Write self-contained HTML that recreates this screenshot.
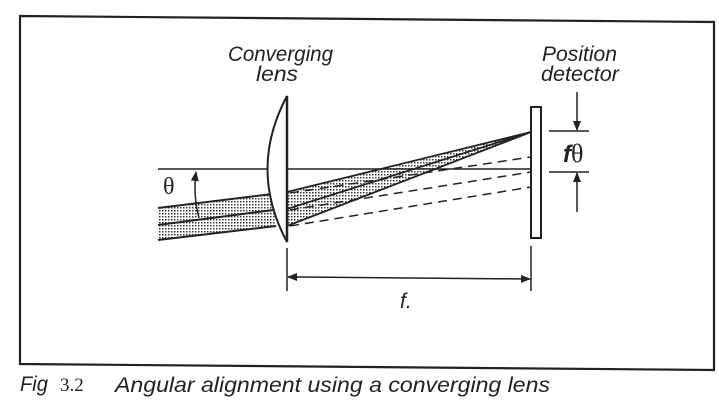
<!DOCTYPE html>
<html><head><style>body{margin:0;background:#fff}svg{display:block}</style></head><body>
<svg width="719" height="403" viewBox="0 0 719 403" xmlns="http://www.w3.org/2000/svg">
<defs>
<pattern id="dots" width="3" height="3" patternUnits="userSpaceOnUse"><rect width="3" height="3" fill="#fff"/><rect x="0" y="0" width="1.5" height="1.5" fill="#333"/></pattern>
<marker id="ah" markerWidth="10" markerHeight="8" refX="9" refY="4" orient="auto" markerUnits="userSpaceOnUse"><path d="M0,0 L10,4 L0,8 z" fill="#222"/></marker>
</defs>
<polygon points="20,16 714,22 714,370 20,364" fill="none" stroke="#222" stroke-width="2.2"/>
<g font-family="Liberation Sans, sans-serif" font-style="italic" font-size="21" fill="#222">
<text x="228" y="61" textLength="105" lengthAdjust="spacingAndGlyphs">Converging</text>
<text x="256" y="81" textLength="42" lengthAdjust="spacingAndGlyphs">lens</text>
<text x="542" y="61" textLength="75" lengthAdjust="spacingAndGlyphs">Position</text>
<text x="541" y="81" textLength="78" lengthAdjust="spacingAndGlyphs">detector</text>
</g>
<polygon points="158,208 272,194 276,226 158,240" fill="url(#dots)"/>
<g stroke="#222" stroke-width="2" fill="none">
<line x1="158" y1="208" x2="272" y2="194"/><line x1="158" y1="225" x2="273" y2="210"/><line x1="158" y1="240" x2="276" y2="226"/>
</g>
<polygon points="287,192 531,132 287,226" fill="url(#dots)"/>
<g stroke="#222" stroke-width="1.8" fill="none">
<line x1="287" y1="192" x2="531" y2="132"/><line x1="287" y1="209" x2="531" y2="132"/><line x1="287" y1="226" x2="531" y2="132"/>
<line x1="158" y1="169" x2="531" y2="169" stroke-width="1.5"/>
</g>
<g stroke="#222" stroke-width="1.5" stroke-dasharray="9,6" fill="none">
<line x1="290" y1="193" x2="531" y2="157"/><line x1="290" y1="210" x2="531" y2="172"/><line x1="290" y1="226" x2="531" y2="187"/>
</g>
<path d="M287,96 Q248,169 287,242 Z" fill="#fff" stroke="#222" stroke-width="2"/>
<line x1="287" y1="96" x2="287" y2="242" stroke="#222" stroke-width="2.5"/>
<rect x="531" y="107" width="10" height="131" fill="#fff" stroke="#222" stroke-width="2"/>
<text x="163" y="194" font-family="Liberation Serif, serif" font-size="24" fill="#222">θ</text>
<path d="M199,218 Q193,195 196,172" fill="none" stroke="#222" stroke-width="1.5" marker-end="url(#ah)"/>
<g stroke="#222" stroke-width="1.5">
<line x1="549" y1="131" x2="589" y2="131"/><line x1="549" y1="172" x2="589" y2="172"/>
<line x1="577" y1="92" x2="577" y2="130" marker-end="url(#ah)"/>
<line x1="577" y1="212" x2="577" y2="173" marker-end="url(#ah)"/>
</g>
<text x="563" y="162" font-family="Liberation Sans, sans-serif" font-style="italic" font-weight="bold" font-size="24" fill="#222">f</text>
<text x="571" y="162" font-family="Liberation Serif, serif" font-size="26" fill="#222">θ</text>
<g stroke="#222" stroke-width="1.5">
<line x1="287" y1="248" x2="287" y2="291"/><line x1="531" y1="246" x2="531" y2="291"/>
<line x1="300" y1="277" x2="530" y2="279" marker-end="url(#ah)"/>
<line x1="300" y1="277" x2="288" y2="277" marker-end="url(#ah)"/>
</g>
<text x="400" y="308" font-family="Liberation Sans, sans-serif" font-style="italic" font-size="21" fill="#222">f.</text>
<g font-size="21" fill="#222">
<text x="20" y="391" font-family="Liberation Sans, sans-serif" font-style="italic" textLength="28" lengthAdjust="spacingAndGlyphs">Fig</text>
<text x="60" y="391" font-family="Liberation Serif, serif" font-size="19">3.2</text>
<text x="115" y="392" font-family="Liberation Sans, sans-serif" font-style="italic" textLength="435" lengthAdjust="spacingAndGlyphs">Angular alignment using a converging lens</text>
</g>
</svg>
</body></html>
